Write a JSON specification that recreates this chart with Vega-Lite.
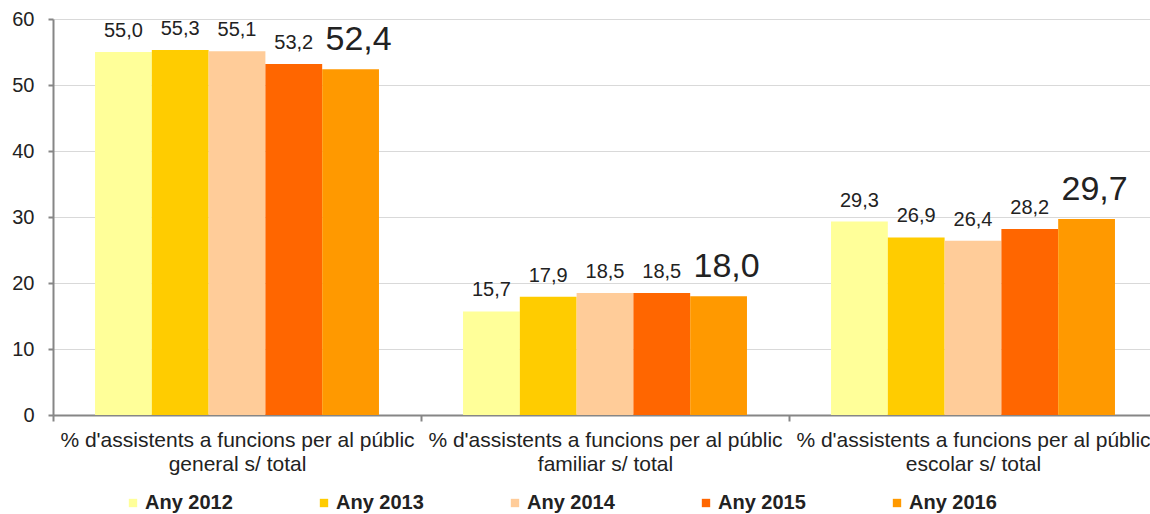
{
  "$schema": "https://vega.github.io/schema/vega-lite/v6.json",
  "width": 1097,
  "height": 396,
  "autosize": {"type": "none"},
  "padding": {"left": 53, "top": 19, "right": 0, "bottom": 99},
  "background": "white",
  "config": {
    "font": "Liberation Sans",
    "view": {"stroke": null},
    "locale": {"number": {"decimal": ",", "thousands": ".", "grouping": [3], "currency": ["", " €"]}}
  },
  "data": {
    "values": [
      {"cat": "% d'assistents a funcions per al públic general s/ total", "year": "Any 2012", "value": 55.0},
      {"cat": "% d'assistents a funcions per al públic general s/ total", "year": "Any 2013", "value": 55.3},
      {"cat": "% d'assistents a funcions per al públic general s/ total", "year": "Any 2014", "value": 55.1},
      {"cat": "% d'assistents a funcions per al públic general s/ total", "year": "Any 2015", "value": 53.2},
      {"cat": "% d'assistents a funcions per al públic general s/ total", "year": "Any 2016", "value": 52.4},
      {"cat": "% d'assistents a funcions per al públic familiar s/ total", "year": "Any 2012", "value": 15.7},
      {"cat": "% d'assistents a funcions per al públic familiar s/ total", "year": "Any 2013", "value": 17.9},
      {"cat": "% d'assistents a funcions per al públic familiar s/ total", "year": "Any 2014", "value": 18.5},
      {"cat": "% d'assistents a funcions per al públic familiar s/ total", "year": "Any 2015", "value": 18.5},
      {"cat": "% d'assistents a funcions per al públic familiar s/ total", "year": "Any 2016", "value": 18.0},
      {"cat": "% d'assistents a funcions per al públic escolar s/ total", "year": "Any 2012", "value": 29.3},
      {"cat": "% d'assistents a funcions per al públic escolar s/ total", "year": "Any 2013", "value": 26.9},
      {"cat": "% d'assistents a funcions per al públic escolar s/ total", "year": "Any 2014", "value": 26.4},
      {"cat": "% d'assistents a funcions per al públic escolar s/ total", "year": "Any 2015", "value": 28.2},
      {"cat": "% d'assistents a funcions per al públic escolar s/ total", "year": "Any 2016", "value": 29.7}
    ]
  },
  "encoding": {
    "x": {
      "field": "cat", "type": "nominal", "sort": null, "title": null,
      "scale": {"paddingInner": 0, "paddingOuter": 0, "range": [0, 1104]},
      "axis": {
        "labelAngle": 0,
        "labelExpr": "[slice(datum.label,0,39), slice(datum.label,40)]",
        "labelFontSize": 21, "labelColor": "#222222", "labelLineHeight": 24,
        "labelPadding": 8, "labelLimit": 400,
        "tickBand": "extent", "tickSize": 6, "tickColor": "#868686", "tickWidth": 2,
        "domainColor": "#868686", "domainWidth": 2
      }
    },
    "xOffset": {"field": "year", "type": "nominal", "scale": {"paddingInner": 0, "paddingOuter": 0.74}},
    "y": {
      "field": "value", "type": "quantitative", "title": null,
      "scale": {"domain": [0, 60]},
      "axis": {
        "values": [0, 10, 20, 30, 40, 50, 60],
        "labelFontSize": 20, "labelColor": "#222222", "labelPadding": 14,
        "tickSize": 5, "tickColor": "#868686", "tickWidth": 2,
        "domainColor": "#868686", "domainWidth": 2,
        "gridColor": "#d9d9d9", "gridWidth": 1
      }
    }
  },
  "layer": [
    {
      "mark": {"type": "bar"},
      "encoding": {
        "color": {
          "field": "year", "type": "nominal", "title": null,
          "scale": {"domain": ["Any 2012", "Any 2013", "Any 2014", "Any 2015", "Any 2016"],
                    "range": ["#FFFF99", "#FFCC00", "#FFCC99", "#FF6600", "#FF9900"]},
          "legend": {
            "orient": "none", "direction": "horizontal", "columns": 5,
            "legendX": 70, "legendY": 474,
            "symbolType": "square", "symbolSize": 70, "symbolStrokeWidth": 0,
            "labelFontSize": 20, "labelFontWeight": "bold", "labelColor": "#222222",
            "labelOffset": 2, "columnPadding": 81
          }
        }
      }
    },
    {
      "transform": [{"filter": "datum.year !== 'Any 2016'"}],
      "mark": {"type": "text", "baseline": "alphabetic", "dy": -15, "color": "#222222", "fontSize": 20},
      "encoding": {
        "text": {"field": "value", "type": "quantitative", "format": ".1f"}
      }
    },
    {
      "transform": [{"filter": "datum.year === 'Any 2016'"}],
      "mark": {"type": "text", "baseline": "alphabetic", "dy": -19, "dx": 8, "color": "#222222", "fontSize": 34},
      "encoding": {
        "text": {"field": "value", "type": "quantitative", "format": ".1f"}
      }
    }
  ]
}
